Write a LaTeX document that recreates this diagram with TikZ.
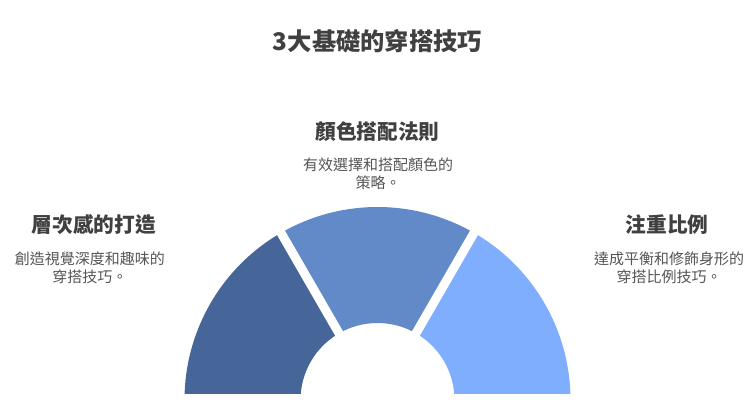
\documentclass[tikz,border=0pt]{standalone}
\usepackage{fontspec}
\usepackage{tikz}
\usetikzlibrary{positioning,calc}
\newfontfamily\cjk{Noto Sans CJK TC}
\definecolor{layercolor}{RGB}{70,101,152}
\definecolor{colorcolor}{RGB}{98,138,200}
\definecolor{ratiocolor}{RGB}{127,174,255}
\definecolor{headgray}{RGB}{64,64,64}
\definecolor{descgray}{RGB}{85,85,85}

\begin{document}
\begin{tikzpicture}[x=1pt,y=1pt,
        every node/.style={inner sep=0pt},
        titletext/.style={font=\cjk\bfseries\fontsize{24.3}{28}\selectfont, text=headgray},
        headtext/.style={font=\cjk\bfseries\fontsize{20.7}{24}\selectfont, text=headgray},
        desctext/.style={font=\cjk\fontsize{15}{18.5}\selectfont, text=descgray, align=center}]
        \useasboundingbox (0,0) rectangle (756,407);
        % title
        \node[titletext] (title) at (377.5,365.5) {3大基礎的穿搭技巧};

        % draw half ring
        \pgfmathsetmacro{\ro}{193}
        \pgfmathsetmacro{\ri}{77}
        \begin{scope}[shift={(377.5,7)}]
            \clip (-220,6) rectangle (220,220);
            \fill[layercolor] (180:\ro) arc (180:120:\ro) -- (120:\ri) arc (120:180:\ri) -- cycle;
            \fill[colorcolor] (120:\ro) arc (120:60:\ro) -- (60:\ri) arc (60:120:\ri) -- cycle;
            \fill[ratiocolor] (60:\ro) arc (60:0:\ro) -- (0:\ri) arc (0:60:\ri) -- cycle;
            % gaps
            \draw[white,line width=9] (0,0) -- (120:\ro+10);
            \draw[white,line width=9] (0,0) -- (60:\ro+10);
        \end{scope}

        % left label
        \node[headtext] (layerhead) at (94,182) {層次感的打造};
        \node[desctext] (layerdesc) at (90,139) {創造視覺深度和趣味的\\穿搭技巧。};

        % middle label
        \node[headtext] (colorhead) at (377.5,275) {顏色搭配法則};
        \node[desctext] (colordesc) at (378,233) {有效選擇和搭配顏色的\\策略。};

        % right label
        \node[headtext] (ratiohead) at (667,182) {注重比例};
        \node[desctext] (ratiodesc) at (669,139) {達成平衡和修飾身形的\\穿搭比例技巧。};
    \end{tikzpicture}
\end{document}
